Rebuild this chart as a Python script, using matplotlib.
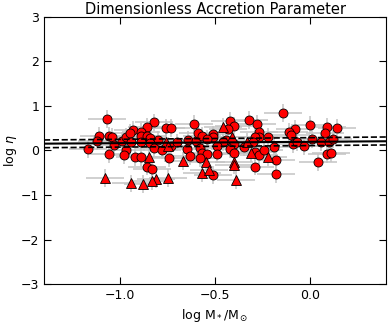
import numpy as np
import matplotlib
matplotlib.use('Agg')
import matplotlib.pyplot as plt

# circles (log M*, log eta)
circ_x = [-1.07, -1.11, -1.12, -1.06, -1.04, -1.17, -1.06, -1.03, -0.99, -0.97, -0.97, -0.98,
          -0.82, -0.76, -0.73, -0.61, -0.93, -0.86, -0.95, -0.89, -0.89, -0.86, -0.84, -0.80,
          -0.89, -0.84, -0.82, -0.94, -0.78, -0.73, -0.70, -0.64, -0.60, -0.59, -0.65, -0.63,
          -0.92, -0.89, -0.74, -0.86, -0.83,
          -0.32, -0.42, -0.40, -0.28, -0.43, -0.27, -0.27, -0.57, -0.51, -0.51, -0.54, -0.44,
          -0.46, -0.40, -0.29, -0.30, -0.22, -0.35, -0.58, -0.49, -0.42, -0.40, -0.57, -0.54,
          -0.49, -0.29, -0.27, -0.24, -0.58, -0.29, -0.51,
          -0.14, 0.00, 0.09, 0.14, 0.08, -0.08, -0.11, -0.10, 0.01, 0.06, 0.10, 0.12,
          -0.09, -0.07, -0.19, -0.03, -0.18, 0.04, 0.09, 0.11, -0.18]
circ_y = [0.70, 0.33, 0.22, 0.33, 0.30, 0.03, -0.09, 0.12, 0.22, 0.30, 0.00, -0.10,
          0.63, 0.51, 0.51, 0.60, 0.46, 0.53, 0.39, 0.42, 0.33, 0.33, 0.27, 0.24,
          0.18, 0.16, 0.06, 0.20, 0.00, 0.09, 0.18, 0.24, 0.22, 0.39, 0.03, -0.12,
          -0.14, -0.14, -0.18, -0.36, -0.42,
          0.69, 0.66, 0.55, 0.60, 0.48, 0.41, 0.31, 0.33, 0.36, 0.31, 0.25, 0.24,
          0.18, 0.15, 0.30, 0.20, 0.31, 0.07, 0.05, 0.09, 0.03, -0.05, -0.06, -0.09,
          -0.09, -0.03, -0.10, 0.01, -0.18, -0.36, -0.55,
          0.85, 0.57, 0.53, 0.50, 0.39, 0.48, 0.42, 0.35, 0.26, 0.19, 0.18, 0.25,
          0.14, 0.18, 0.07, 0.10, -0.21, -0.27, -0.08, -0.06, -0.53]

# triangles
tri_x = [-1.08, -0.76, -0.75, -0.85, -0.67, -0.75, -0.81, -0.83, -0.88, -0.94,
         -0.46, -0.41, -0.33, -0.31, -0.55, -0.40, -0.40, -0.57, -0.53, -0.39, -0.22]
tri_y = [-0.61, 0.20, 0.09, -0.14, -0.24, -0.61, -0.64, -0.68, -0.76, -0.74,
         0.53, 0.31, 0.20, -0.06, -0.27, -0.25, -0.33, -0.50, -0.44, -0.66, -0.14]

x_err = 0.1
y_err = 0.2

# fit line and dashed bounds: (slope, intercept)
fit = (0.030, 0.195)
fit_hi = (0.037, 0.288)
fit_lo = (0.034, 0.110)

plt.rcParams['xtick.direction'] = 'in'
plt.rcParams['ytick.direction'] = 'in'
plt.rcParams['xtick.top'] = True
plt.rcParams['ytick.right'] = True

fig = plt.figure(figsize=(3.91, 3.25), dpi=100)
ax = fig.add_axes([0.1125, 0.126, 0.875, 0.822])

ax.errorbar(circ_x + tri_x, circ_y + tri_y, xerr=x_err, yerr=y_err, fmt='none',
            ecolor='#c4c4c4', elinewidth=1.1, zorder=1)
ax.plot(circ_x, circ_y, 'o', color='red', mec='black', mew=0.6, ms=6.5, zorder=3)
ax.plot(tri_x, tri_y, '^', color='red', mec='black', mew=0.6, ms=6.5, zorder=3)

xl = np.array([-1.4, 0.4])
ax.plot(xl, fit[0] * xl + fit[1], 'k-', lw=1.5, zorder=4)
ax.plot(xl, fit_hi[0] * xl + fit_hi[1], 'k--', lw=1.2, zorder=4)
ax.plot(xl, fit_lo[0] * xl + fit_lo[1], 'k--', lw=1.2, zorder=4)

ax.set_xlim(-1.4, 0.4)
ax.set_ylim(-3, 3)
ax.set_xticks([-1.0, -0.5, 0.0])
ax.set_yticks([-3, -2, -1, 0, 1, 2, 3])
ax.tick_params(labelsize=9, length=5)
ax.set_title('Dimensionless Accretion Parameter', fontsize=10.5, pad=2)
ax.set_xlabel(r'log M$_*$/M$_\odot$', fontsize=9)
ax.set_ylabel(r'log $\eta$', fontsize=9, labelpad=1)

fig.savefig('out.png', dpi=100)
